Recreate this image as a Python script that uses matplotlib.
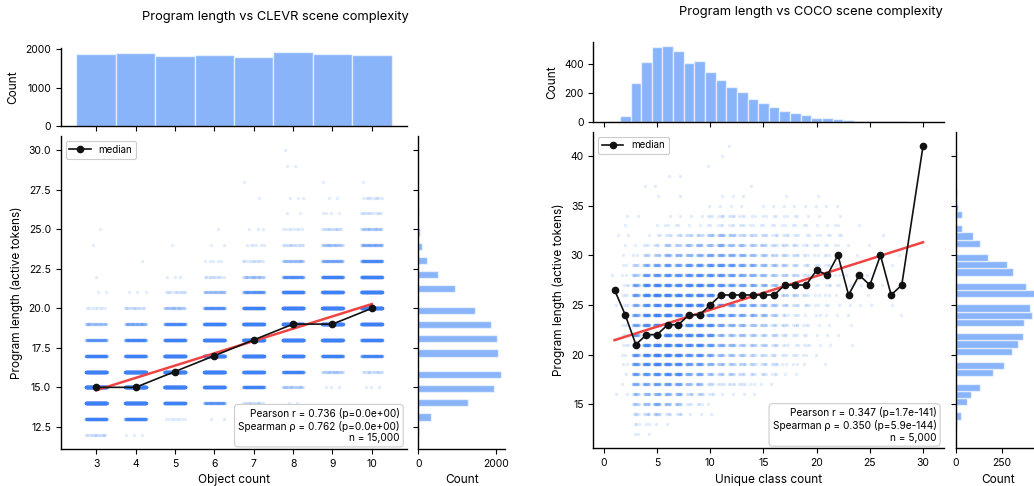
import numpy as np
import matplotlib
matplotlib.use("Agg")
import matplotlib.pyplot as plt
from matplotlib.ticker import MultipleLocator

plt.rcParams['font.family'] = ['Inter', 'DejaVu Sans']
plt.rcParams['axes.linewidth'] = 1.0
plt.rcParams['xtick.labelsize'] = 7.5
plt.rcParams['ytick.labelsize'] = 7.5
plt.rcParams['axes.labelsize'] = 8.5

# ---- CLEVR: object count -> {program length: number of scenes}
clevr_objects = [3, 4, 5, 6, 7, 8, 9, 10]
clevr_counts = [
    {12: 15, 13: 170, 14: 490, 15: 520, 16: 390, 17: 170, 18: 80, 19: 35, 20: 8, 21: 2, 22: 1, 24: 1, 25: 1},
    {12: 3, 13: 150, 14: 430, 15: 500, 16: 439, 17: 200, 18: 120, 19: 50, 20: 15, 21: 3, 23: 1},
    {13: 8, 14: 260, 15: 450, 16: 420, 17: 340, 18: 200, 19: 109, 20: 30, 21: 12, 22: 3, 24: 1},
    {13: 2, 14: 75, 15: 290, 16: 400, 17: 400, 18: 310, 19: 220, 20: 90, 21: 35, 22: 12, 23: 5, 24: 2, 25: 1},
    {14: 15, 15: 150, 16: 280, 17: 360, 18: 380, 19: 300, 20: 180, 21: 80, 22: 30, 23: 12, 24: 6, 25: 3, 27: 1, 28: 1},
    {14: 2, 15: 25, 16: 150, 17: 275, 18: 370, 19: 400, 20: 345, 21: 205, 22: 90, 23: 35, 24: 15, 25: 8, 26: 2, 27: 3, 29: 2, 30: 1},
    {15: 3, 16: 25, 17: 180, 18: 345, 19: 410, 20: 385, 21: 260, 22: 155, 23: 55, 24: 30, 25: 15, 26: 4, 27: 2, 28: 1},
    {15: 3, 16: 15, 17: 120, 18: 215, 19: 330, 20: 395, 21: 339, 22: 215, 23: 110, 24: 50, 25: 28, 26: 12, 27: 10, 28: 1},
]
clevr_stats = "Pearson r = 0.736 (p=0.0e+00)\nSpearman \u03c1 = 0.762 (p=0.0e+00)\nn = 15,000"

# ---- COCO: unique class count -> {program length: number of images}
coco_classes = [1, 2, 3, 4, 5, 6, 7, 8, 9, 10, 11, 12, 13, 14, 15, 16, 17, 18, 19, 20,
                21, 22, 23, 24, 25, 26, 27, 28, 30]
coco_counts = [
    {16: 1, 25: 1, 28: 1, 32: 1},
    {16: 1, 17: 1, 18: 1, 19: 2, 20: 2, 21: 3, 22: 3, 23: 3, 24: 4, 25: 3, 26: 3, 27: 3, 28: 2, 29: 2, 30: 1, 31: 1, 32: 1, 33: 1, 34: 1},
    {12: 2, 13: 3, 14: 5, 15: 8, 16: 10, 17: 15, 18: 20, 19: 23, 20: 24, 21: 25, 22: 20, 23: 19, 24: 20, 25: 15, 26: 22, 27: 18, 28: 9, 29: 6, 30: 2, 31: 1, 34: 1},
    {12: 1, 13: 2, 14: 6, 15: 10, 16: 11, 17: 16, 18: 23, 19: 31, 20: 35, 21: 35, 22: 39, 23: 30, 24: 35, 25: 27, 26: 36, 27: 31, 28: 21, 29: 14, 30: 6, 31: 3, 32: 1, 37: 1},
    {13: 1, 14: 8, 15: 16, 16: 14, 17: 20, 18: 28, 19: 39, 20: 43, 21: 43, 22: 48, 23: 37, 24: 43, 25: 34, 26: 46, 27: 37, 28: 25, 29: 18, 30: 8, 31: 4, 32: 2, 33: 1, 36: 1, 37: 1},
    {13: 1, 14: 4, 15: 10, 16: 13, 17: 20, 18: 30, 19: 33, 20: 39, 21: 40, 22: 48, 23: 49, 24: 48, 25: 44, 26: 39, 27: 33, 28: 26, 29: 20, 30: 13, 31: 8, 32: 4, 33: 2, 34: 1, 38: 1},
    {14: 4, 15: 9, 16: 12, 17: 18, 18: 29, 19: 31, 20: 37, 21: 37, 22: 45, 23: 46, 24: 45, 25: 41, 26: 37, 27: 31, 28: 25, 29: 18, 30: 12, 31: 7, 32: 4, 33: 2, 34: 1, 36: 1, 38: 1},
    {14: 1, 15: 3, 16: 6, 17: 10, 18: 15, 19: 21, 20: 26, 21: 31, 22: 35, 23: 37, 24: 39, 25: 37, 26: 35, 27: 34, 28: 26, 29: 23, 30: 12, 31: 10, 32: 6, 33: 1, 34: 1},
    {14: 1, 15: 3, 16: 6, 17: 11, 18: 16, 19: 21, 20: 27, 21: 32, 22: 36, 23: 39, 24: 40, 25: 39, 26: 36, 27: 35, 28: 27, 29: 23, 30: 13, 31: 11, 32: 6, 33: 1, 34: 1},
    {14: 1, 15: 1, 16: 3, 17: 5, 18: 9, 19: 13, 20: 17, 21: 22, 22: 26, 23: 29, 24: 31, 25: 32, 26: 34, 27: 29, 28: 26, 29: 25, 30: 17, 31: 10, 32: 9, 33: 2, 34: 3, 35: 1, 39: 1},
    {16: 1, 17: 4, 18: 7, 19: 10, 20: 11, 21: 15, 22: 12, 23: 18, 24: 25, 25: 26, 26: 33, 27: 26, 28: 25, 29: 27, 30: 16, 31: 15, 32: 11, 33: 3, 34: 4, 35: 1, 36: 1, 40: 1},
    {16: 1, 17: 4, 18: 7, 19: 8, 20: 9, 21: 12, 22: 10, 23: 14, 24: 20, 25: 21, 26: 26, 27: 21, 28: 20, 29: 22, 30: 15, 31: 10, 32: 9, 33: 3, 34: 4, 35: 1, 36: 1, 41: 1},
    {16: 1, 17: 4, 18: 5, 19: 7, 20: 8, 21: 8, 22: 10, 23: 12, 24: 17, 25: 19, 26: 23, 27: 19, 28: 17, 29: 18, 30: 13, 31: 10, 32: 6, 33: 3, 34: 3, 35: 1, 36: 1},
    {16: 1, 17: 2, 18: 4, 19: 6, 20: 6, 21: 8, 22: 8, 23: 9, 24: 14, 25: 15, 26: 15, 27: 15, 28: 14, 29: 15, 30: 10, 31: 8, 32: 6, 33: 2, 34: 2, 37: 1},
    {17: 1, 18: 4, 19: 5, 20: 5, 21: 7, 22: 6, 23: 8, 24: 11, 25: 12, 26: 12, 27: 12, 28: 11, 29: 11, 30: 8, 31: 7, 32: 5, 33: 2, 34: 2, 35: 1},
    {17: 1, 18: 3, 19: 5, 20: 4, 21: 5, 22: 6, 23: 5, 24: 8, 25: 9, 26: 9, 27: 9, 28: 8, 29: 9, 30: 6, 31: 5, 32: 4, 33: 2, 34: 2, 35: 1},
    {18: 1, 19: 2, 20: 3, 21: 3, 22: 4, 23: 5, 24: 4, 25: 6, 26: 7, 27: 7, 28: 7, 29: 7, 30: 6, 31: 5, 32: 4, 33: 2, 34: 2, 35: 1, 36: 1},
    {18: 1, 19: 2, 20: 3, 21: 2, 22: 3, 23: 4, 24: 3, 25: 5, 26: 6, 27: 6, 28: 6, 29: 5, 30: 5, 31: 4, 32: 3, 33: 2, 34: 2, 35: 1},
    {19: 1, 20: 2, 21: 3, 22: 2, 23: 3, 24: 1, 25: 4, 26: 4, 27: 4, 28: 4, 29: 4, 30: 3, 31: 3, 32: 2, 33: 2, 34: 1, 35: 1},
    {20: 1, 21: 1, 22: 1, 23: 1, 24: 2, 25: 2, 26: 2, 27: 2, 28: 2, 29: 3, 30: 2, 31: 3, 32: 2, 33: 1, 34: 1, 35: 1, 36: 1},
    {19: 1, 21: 1, 22: 1, 23: 1, 24: 1, 25: 2, 26: 2, 27: 3, 28: 2, 29: 3, 30: 3, 31: 2, 32: 2, 33: 1, 35: 1},
    {22: 1, 24: 1, 25: 1, 26: 1, 27: 2, 28: 2, 29: 2, 30: 3, 31: 2, 32: 2, 33: 2, 34: 1, 35: 1},
    {21: 1, 23: 1, 24: 1, 25: 1, 26: 1, 27: 1, 28: 1, 29: 1, 31: 1},
    {25: 1, 27: 1, 28: 1, 30: 1, 33: 1},
    {25: 1, 26: 1, 28: 1, 31: 1},
    {27: 1, 30: 1, 32: 1},
    {25: 1, 26: 1, 29: 1},
    {24: 1, 27: 1, 30: 1},
    {41: 1},
]
coco_stats = "Pearson r = 0.347 (p=1.7e-141)\nSpearman \u03c1 = 0.350 (p=5.9e-144)\nn = 5,000"

BLUE = '#3b82f6'
RED = '#ef4444'
W, H = 1034, 486


def expand(xvals, tables, jw):
    xs, ys, xj = [], [], []
    for xv, tab in zip(xvals, tables):
        for yv, n in tab.items():
            k = np.arange(n) + (yv * 7) % 11
            off = ((k * 0.6180339887 + 0.5) % 1.0 - 0.5) * 2 * jw
            xs += [xv] * n
            ys += [yv] * n
            xj += list(xv + off)
    return np.array(xs, float), np.array(ys, float), np.array(xj)


def px_rect(x0, y0, x1, y1):
    return [x0 / W, 1 - y1 / H, (x1 - x0) / W, (y1 - y0) / H]


def joint(fig, main_r, top_r, right_r, xvals, tables, jw, stats, xlabel,
          title, title_xy, top_step, right_step, right_lim=None):
    x, y, xj = expand(xvals, tables, jw)
    ax = fig.add_axes(px_rect(*main_r))
    ax_top = fig.add_axes(px_rect(*top_r), sharex=ax)
    ax_r = fig.add_axes(px_rect(*right_r), sharey=ax)

    ax.scatter(xj, y, s=6, color=BLUE, alpha=0.15, linewidths=0, zorder=1)

    # median per x
    ux = np.unique(x)
    med = [np.median(y[x == u]) for u in ux]
    ax.plot(ux, med, color='#111111', lw=1.2, marker='o', ms=4.5, label='median', zorder=4)

    # linear fit
    b, a = np.polyfit(x, y, 1)
    xx = np.array([x.min(), x.max()])
    ax.plot(xx, a + b * xx, color=RED, lw=1.8, zorder=3)

    leg = ax.legend(loc='upper left', fontsize=7, frameon=True, fancybox=True,
                    edgecolor='#cccccc', framealpha=1, handlelength=2.2)
    leg.get_frame().set_linewidth(0.8)

    ax.text(0.978, 0.018, stats, transform=ax.transAxes, ha='right', va='bottom',
            fontsize=7.3, zorder=5,
            bbox=dict(boxstyle='round,pad=0.35', fc='white', ec='#cccccc', lw=0.8))

    ax.set_xlabel(xlabel)
    ax.set_ylabel('Program length (active tokens)')

    # marginals
    bins_x = np.arange(x.min() - 0.5, x.max() + 1.5)
    ax_top.hist(x, bins=bins_x, color=BLUE, alpha=0.6, edgecolor='white', linewidth=1)
    ax_r.hist(y, bins=40, orientation='horizontal', color=BLUE, alpha=0.6,
              edgecolor='white', linewidth=1)
    ax_top.set_ylabel('Count')
    ax_r.set_xlabel('Count')
    ax_top.yaxis.set_major_locator(MultipleLocator(top_step))
    ax_r.xaxis.set_major_locator(MultipleLocator(right_step))
    if right_lim is not None:
        ax_r.set_xlim(0, right_lim)
    ax_top.tick_params(labelbottom=False)
    ax_r.tick_params(labelleft=False)

    for a_ in (ax, ax_top, ax_r):
        a_.spines['top'].set_visible(False)
        a_.spines['right'].set_visible(False)

    fig.text(title_xy[0] / W, 1 - title_xy[1] / H, title, ha='center', va='center', fontsize=9.3)
    return ax


fig = plt.figure(figsize=(W / 100, H / 100), dpi=100)

ax1 = joint(fig, (60.7, 136, 407.3, 449), (60.7, 48.3, 407.3, 126), (418.3, 136, 505, 449),
            clevr_objects, clevr_counts, 0.27, clevr_stats, 'Object count',
            'Program length vs CLEVR scene complexity', (275, 17), 1000, 2000)
ax1.set_xticks(clevr_objects)
ax1.yaxis.set_major_locator(MultipleLocator(2.5))

ax2 = joint(fig, (593.3, 131.7, 944.3, 448.3), (593.3, 42.3, 944.3, 121.7), (955.7, 131.7, 1040, 448.3),
            coco_classes, coco_counts, 0.3, coco_stats, 'Unique class count',
            'Program length vs COCO scene complexity', (811, 11.5), 200, 250, right_lim=455)
ax2.xaxis.set_major_locator(MultipleLocator(5))
ax2.yaxis.set_major_locator(MultipleLocator(5))

fig.savefig('out.png', dpi=100)
